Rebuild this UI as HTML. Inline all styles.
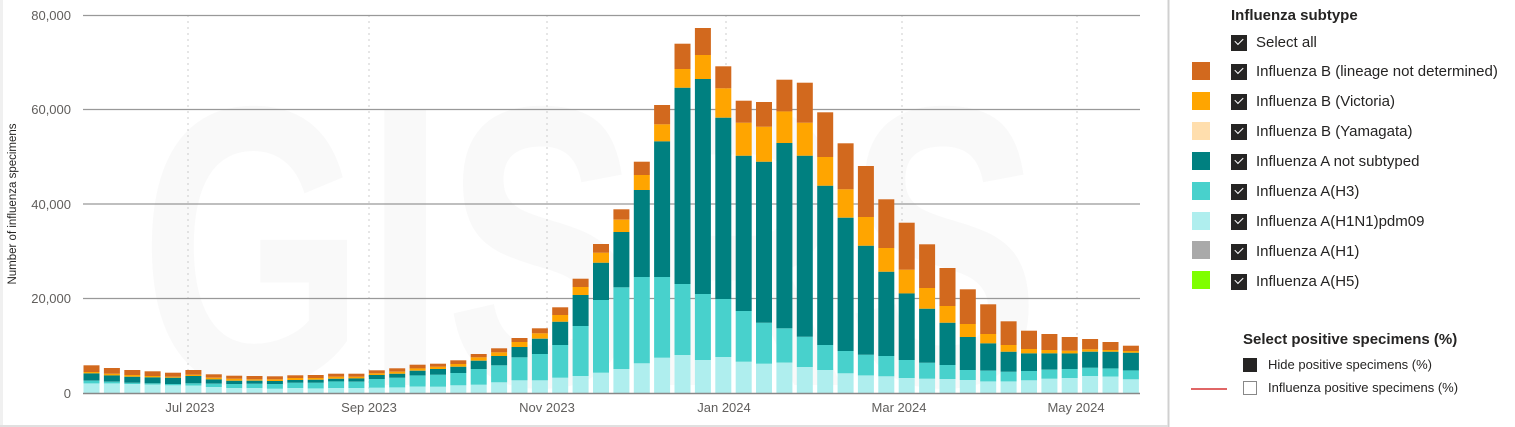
<!DOCTYPE html>
<html style="margin:0;width:1515px;height:427px;overflow:hidden"><head><meta charset="utf-8"><style>
body{margin:0;width:1515px;height:427px;background:#fff;overflow:hidden;font-family:"Liberation Sans",sans-serif;position:relative}
.lg{position:absolute;font-size:15px;color:#252423;white-space:nowrap;line-height:18px}
.cb{position:absolute;width:16px;height:16px;background:#252423;}
.cb:after{content:"";position:absolute;left:4px;top:3px;width:7px;height:4px;border-left:1.6px solid #fff;border-bottom:1.6px solid #fff;transform:rotate(-45deg)}
.sw{position:absolute;left:1192px;width:18px;height:18px}
</style></head><body>
<svg width="1515" height="427" style="position:absolute;left:0;top:0;display:block" id="s">
<rect x="0" y="0" width="3" height="427" fill="#f0f0f0"/>
<line x1="1168.5" y1="0" x2="1168.5" y2="427" stroke="#d0d0d0" stroke-width="2"/>
<line x1="0" y1="426" x2="1168" y2="426" stroke="#e0e0e0" stroke-width="2"/>
<text x="590" y="385" font-family="Liberation Sans,sans-serif" font-weight="bold" font-size="400" fill="#f9f9f9" text-anchor="middle" textLength="900" lengthAdjust="spacingAndGlyphs">GISRS</text>
<g stroke="#ccc" stroke-dasharray="2,4" stroke-width="1">
<line x1="188" y1="15" x2="188" y2="393"/><line x1="369" y1="15" x2="369" y2="393"/><line x1="547" y1="15" x2="547" y2="393"/><line x1="726" y1="15" x2="726" y2="393"/><line x1="902" y1="15" x2="902" y2="393"/><line x1="1077" y1="15" x2="1077" y2="393"/>
</g>
<g stroke="#999" stroke-width="1.3">
<line x1="83" y1="15.5" x2="1140" y2="15.5"/><line x1="83" y1="109.5" x2="1140" y2="109.5"/><line x1="83" y1="204" x2="1140" y2="204"/><line x1="83" y1="298.5" x2="1140" y2="298.5"/>
</g>
<g id="bars"></g>
<line x1="83" y1="393.5" x2="1140" y2="393.5" stroke="#888" stroke-width="1.5"/>
<g font-family="Liberation Sans,sans-serif" font-size="13" fill="#605e5c" text-anchor="end">
<text x="71" y="20">80,000</text><text x="71" y="114">60,000</text><text x="71" y="209">40,000</text><text x="71" y="303">20,000</text><text x="71" y="398">0</text>
</g>
<g font-family="Liberation Sans,sans-serif" font-size="13" fill="#605e5c" text-anchor="middle">
<text x="190" y="412">Jul 2023</text><text x="369" y="412">Sep 2023</text><text x="547" y="412">Nov 2023</text><text x="724" y="412">Jan 2024</text><text x="899" y="412">Mar 2024</text><text x="1076" y="412">May 2024</text>
</g>
<text transform="translate(16,204) rotate(-90)" font-family="Liberation Sans,sans-serif" font-size="11.5" fill="#252423" text-anchor="middle">Number of influenza specimens</text>
<line x1="1191" y1="389" x2="1227" y2="389" stroke="#e06666" stroke-width="2"/>
</svg>

<div class="lg" style="left:1231px;top:7px;font-weight:bold">Influenza subtype</div>
<div class="cb" style="left:1231px;top:35px"></div><div class="lg" style="left:1256px;top:34px">Select all</div>
<div class="sw" style="top:62px;background:#d2691e"></div><div class="cb" style="left:1231px;top:64px"></div><div class="lg" style="left:1256px;top:63px">Influenza B (lineage not determined)</div>
<div class="sw" style="top:92px;background:#ffa500"></div><div class="cb" style="left:1231px;top:94px"></div><div class="lg" style="left:1256px;top:93px">Influenza B (Victoria)</div>
<div class="sw" style="top:122px;background:#ffdead"></div><div class="cb" style="left:1231px;top:124px"></div><div class="lg" style="left:1256px;top:123px">Influenza B (Yamagata)</div>
<div class="sw" style="top:152px;background:#008080"></div><div class="cb" style="left:1231px;top:154px"></div><div class="lg" style="left:1256px;top:153px">Influenza A not subtyped</div>
<div class="sw" style="top:182px;background:#48d1cc"></div><div class="cb" style="left:1231px;top:184px"></div><div class="lg" style="left:1256px;top:183px">Influenza A(H3)</div>
<div class="sw" style="top:212px;background:#afeeee"></div><div class="cb" style="left:1231px;top:214px"></div><div class="lg" style="left:1256px;top:213px">Influenza A(H1N1)pdm09</div>
<div class="sw" style="top:241px;background:#a9a9a9"></div><div class="cb" style="left:1231px;top:244px"></div><div class="lg" style="left:1256px;top:243px">Influenza A(H1)</div>
<div class="sw" style="top:271px;background:#7fff00"></div><div class="cb" style="left:1231px;top:274px"></div><div class="lg" style="left:1256px;top:273px">Influenza A(H5)</div>
<div class="lg" style="left:1243px;top:331px;font-weight:bold">Select positive specimens (%)</div>
<div style="position:absolute;left:1243px;top:358px;width:14px;height:14px;background:#252423"></div>
<div class="lg" style="left:1268px;top:356px;font-size:13px">Hide positive specimens (%)</div>
<div style="position:absolute;left:1243px;top:381px;width:12px;height:12px;border:1px solid #888;background:#fff"></div>
<div class="lg" style="left:1268px;top:379px;font-size:13px">Influenza positive specimens (%)</div>

<script>
var z1=[[430,422,400,396,376],[430,425,406,401,384],[432,428,410,405,390],[434,430,412,408,394],[436,432,413,410,398],[437,430,408,404,390],[441,431,418,413,403],[444,432,422,416,407],[444,431,422,418,408],[446,432,423,418,409],[444,428,420,414,406],[445,428,419,414,405],[444,424,416,410,401],[444,425,415,410,401],[443,417,405,400,391],[442,413,401,395,385],[440,406,392,385,374],[440,404,387,380,371],[436,399,380,372,361],[434,387,362,352,342],[427,376,348,337,325],[421,352,321,306,294],[421,342,296,280,265],[413,315,245,225,202],[408,258,165,141,116],[398,180,68,38,12]];
var z2=[[1047,802,636,599,568],[1030,771,510,465,425],[1013,771,364,313,255],[1005,792,203,147,71],[1020,822,177,105,24],[1011,837,293,205,139],[1025,873,407,308,242],[1031,908,425,320,246],[1028,925,369,274,179],[1041,950,407,308,188],[1050,975,497,411,277],[1060,993,593,508,370],[1066,1004,677,591,438],[1069,1008,755,684,538],[1074,1020,820,749,608],[1076,1028,866,804,673],[1077,1035,908,858,744],[1080,1050,951,912,808],[1084,1052,970,942,853],[1084,1055,995,975,904],[1081,1053,1000,987,932],[1076,1049,1000,990,942],[1074,1047,1000,992,951],[1068,1043,995,988,957],[1070,1045,995,990,966],[1078,1051,998,993,977]];
var d=[];z1.forEach(function(r){d.push(r.map(function(v){return 240+v/3}))});z2.forEach(function(r){d.push(r.map(function(v){return 20+v/3}))});
var cols=["#afeeee","#48d1cc","#008080","#ffa500","#d2691e"];
var h="";
d.forEach(function(r,i){var x=83.5+i*20.38;var prev=393;for(var k=0;k<5;k++){var t=r[k];if(prev-t>0)h+='<rect x="'+x.toFixed(1)+'" y="'+t.toFixed(1)+'" width="16" height="'+(prev-t).toFixed(1)+'" fill="'+cols[k]+'"/>';prev=t;}});
document.getElementById("bars").innerHTML=h;
</script>
</body></html>
